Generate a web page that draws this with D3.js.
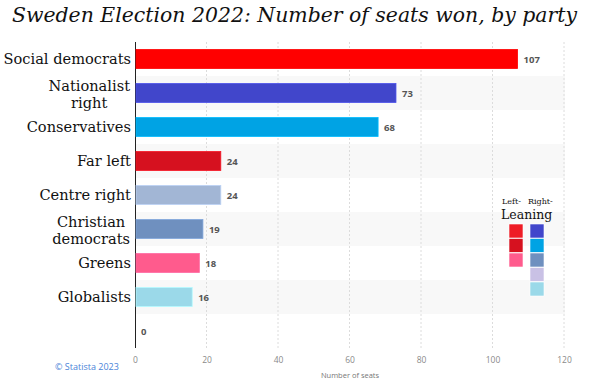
<!DOCTYPE html>
<html><head><meta charset="utf-8">
<script src="https://cdn.jsdelivr.net/npm/d3@7"></script>
<style>body{margin:0;background:#fff}svg{display:block}</style>
</head><body>
<svg id="c" width="594" height="383"></svg>
<script>
const categories = [["Social democrats"],["Nationalist","right"],["Conservatives"],["Far left"],["Centre right"],["Christian","democrats"],["Greens"],["Globalists"],[""]];
const seats = [107,73,68,24,24,19,18,16,0];
const barColors = ["#ff0000","#4146cb","#00a3e4","#d6111f","#a2b6d5","#6f90bf","#ff5b8d","#9bd9e9","#cccccc"];
const xTicks = [0,20,40,60,80,100,120];
const legendLeft = ["#ee1c25","#d6111f","#ff5b8d"];
const legendRight = ["#4146cb","#00a3e4","#6f90bf","#c9c1e5","#9bd9e9"];

const svg = d3.select("#c");
const x = d3.scaleLinear().domain([0,120]).range([135,564]);
const y = d3.scaleBand().domain(d3.range(categories.length)).range([42,348]).paddingInner(0).paddingOuter(0);

svg.append("text").attr("x",12).attr("y",22).attr("textLength",565).attr("lengthAdjust","spacingAndGlyphs")
  .attr("font-family","DejaVu Serif").attr("font-style","italic").attr("font-size",20)
  .attr("fill","#111").text("Sweden Election 2022: Number of seats won, by party");

// row bands
svg.append("g").selectAll("rect").data(d3.range(categories.length).filter(i=>i%2===1)).join("rect")
  .attr("x",135).attr("width",430).attr("y",i=>y(i)).attr("height",y.bandwidth()).attr("fill","#f8f8f8");

// grid
svg.append("g").selectAll("line").data(xTicks.slice(1)).join("line")
  .attr("x1",d=>x(d)).attr("x2",d=>x(d)).attr("y1",42).attr("y2",348)
  .attr("stroke","#dcdcdc").attr("stroke-dasharray","2,2");

const ax = svg.append("g").attr("transform","translate(0,363)").call(d3.axisBottom(x).tickValues(xTicks).tickSize(0).tickPadding(0));
ax.select(".domain").remove();
ax.selectAll("text").attr("font-family","Open Sans").attr("font-size",8.5).attr("fill","#8a8a8a").attr("dy","0");

svg.append("line").attr("x1",135.5).attr("x2",135.5).attr("y1",42).attr("y2",348).attr("stroke","#222").attr("stroke-width",1);

const bh = 19;
svg.append("g").selectAll("rect").data(seats).join("rect")
  .attr("x",x(0)+1).attr("y",(d,i)=>y(i)+y.bandwidth()/2-bh/2).attr("width",d=>Math.max(0,x(d)-x(0)-1)).attr("height",bh)
  .attr("fill",(d,i)=>barColors[i]).attr("stroke",(d,i)=>d3.color(barColors[i]).brighter(0.4)).attr("stroke-width",d=>d>0?0.8:0);

svg.append("g").selectAll("text").data(seats).join("text")
  .attr("x",d=>x(d)+6).attr("y",(d,i)=>y(i)+y.bandwidth()/2+3.5)
  .attr("font-family","Open Sans").attr("font-weight","bold").attr("font-size",9.5).attr("fill","#555").text(d=>d);

// category labels
const lab = svg.append("g").attr("font-family","DejaVu Serif").attr("font-size",14.6).attr("fill","#111");
categories.forEach((lines,i)=>{
  const cy = y(i)+y.bandwidth()/2;
  if(lines.length===1){
    lab.append("text").attr("x",131).attr("y",cy+5).attr("text-anchor","end").text(lines[0]);
  } else {
    const t = lab.append("text").attr("text-anchor","middle");
    let w = 0;
    lines.forEach(l=>{ const tmp = lab.append("text").text(l); w = Math.max(w,tmp.node().getComputedTextLength()); tmp.remove(); });
    const cx = 130 - w/2;
    lines.forEach((l,k)=>t.append("tspan").attr("x",cx).attr("y",cy-2+k*17).text(l));
  }
});

svg.append("text").attr("x",350).attr("y",378).attr("text-anchor","middle").attr("font-family","Open Sans").attr("font-size",7.5).attr("fill","#777").text("Number of seats");
svg.append("text").attr("x",55).attr("y",370).attr("font-family","Open Sans").attr("font-size",9).attr("fill","#4a84d8").text("© Statista 2023");

// legend
const lg = svg.append("g").attr("font-family","DejaVu Serif").attr("fill","#111");
lg.append("text").attr("x",502).attr("y",204).attr("font-size",8).text("Left-");
lg.append("text").attr("x",528).attr("y",204).attr("font-size",8).text("Right-");
lg.append("text").attr("x",501).attr("y",219).attr("font-size",12.5).text("Leaning");
lg.selectAll(".l").data(legendLeft).join("rect").attr("x",509).attr("y",(d,i)=>224+i*14.5).attr("width",14).attr("height",14).attr("fill",d=>d).attr("stroke","#fff").attr("stroke-width",0.6);
lg.selectAll(".r").data(legendRight).join("rect").attr("x",530).attr("y",(d,i)=>224+i*14.5).attr("width",14).attr("height",14).attr("fill",d=>d).attr("stroke","#fff").attr("stroke-width",0.6);
</script>
</body></html>
